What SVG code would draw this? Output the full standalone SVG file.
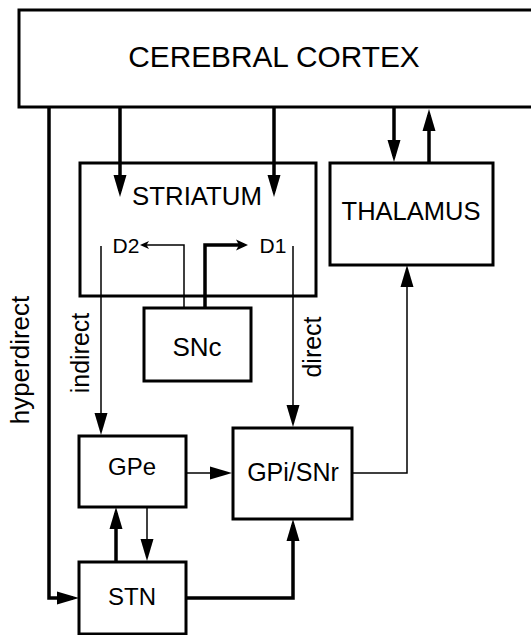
<svg xmlns="http://www.w3.org/2000/svg" width="531" height="635" viewBox="0 0 531 635">
<style>
.box{fill:#fff;stroke:#000;stroke-width:3}
.t{font-family:"Liberation Sans",Arial,sans-serif;fill:#000;text-anchor:middle}
.thick{fill:none;stroke:#000;stroke-width:3.5}
.thin{fill:none;stroke:#000;stroke-width:1.5}
</style>
<defs>
<marker id="ah" markerUnits="userSpaceOnUse" markerWidth="22" markerHeight="14" refX="16" refY="7" orient="auto" viewBox="0 0 22 14"><path d="M0,0.5 L22,7 L0,13.5 z" fill="#000"/></marker>
<marker id="sm" markerUnits="userSpaceOnUse" markerWidth="12" markerHeight="12" refX="8" refY="6" orient="auto" viewBox="0 0 12 12"><path d="M0,0.5 L12,6 L0,11.5 L3,6 z" fill="#000"/></marker>
<marker id="xs" markerUnits="userSpaceOnUse" markerWidth="9" markerHeight="9" refX="6" refY="4.5" orient="auto" viewBox="0 0 9 9"><path d="M0,0.5 L9,4.5 L0,8.5 L2.5,4.5 z" fill="#000"/></marker>
</defs>
<g id="connectors">
<path class="thick" d="M49,107 V598 H73" marker-end="url(#ah)"/>
<path class="thick" d="M120,107 V191" marker-end="url(#ah)"/>
<path class="thick" d="M274,107 V191" marker-end="url(#ah)"/>
<path class="thick" d="M394,107 V156" marker-end="url(#ah)"/>
<path class="thick" d="M429,163 V115" marker-end="url(#ah)"/>
<path class="thin" d="M184,308 V245 H143" marker-end="url(#xs)"/>
<path class="thick" d="M205,308 V245 H244" marker-end="url(#sm)"/>
<path class="thin" d="M101,246 V429" marker-end="url(#ah)"/>
<path class="thin" d="M293,246 V421" marker-end="url(#ah)"/>
<path class="thin" d="M186,473 H226" marker-end="url(#ah)"/>
<path class="thin" d="M352,473 H407 V271" marker-end="url(#ah)"/>
<path class="thick" d="M116,562 V513" marker-end="url(#ah)"/>
<path class="thin" d="M147,507 V555" marker-end="url(#ah)"/>
<path class="thick" d="M186,598 H293 V525" marker-end="url(#ah)"/>
</g>
<g id="cortex"><rect class="box" x="19" y="10" width="530" height="97"/><text class="t" x="274" y="67" font-size="29.8">CEREBRAL CORTEX</text></g>
<g id="striatum"><rect class="box" x="80" y="163" width="236" height="133" style="fill:none"/><text class="t" x="197" y="205" font-size="25.8">STRIATUM</text>
<text class="t" x="126" y="253" font-size="21">D2</text><text class="t" x="273" y="253" font-size="21">D1</text></g>
<g id="thalamus"><rect class="box" x="330" y="163" width="163" height="102"/><text class="t" x="411" y="220" font-size="25.5">THALAMUS</text></g>
<g id="snc"><rect class="box" x="144" y="308" width="107" height="73" style="fill:none"/><text class="t" x="197" y="356" font-size="26">SNc</text></g>
<g id="gpe"><rect class="box" x="79" y="436" width="107" height="71"/><text class="t" x="132" y="475" font-size="24">GPe</text></g>
<g id="gpi"><rect class="box" x="233" y="428" width="119" height="91"/><text class="t" x="293" y="481" font-size="25">GPi/SNr</text></g>
<g id="stn"><rect class="box" x="79" y="562" width="107" height="72"/><text class="t" x="132" y="605" font-size="24">STN</text></g>
<g id="labels">
<text class="t" font-size="26" transform="translate(29,360) rotate(-90)">hyperdirect</text>
<text class="t" font-size="25" transform="translate(89,353) rotate(-90)">indirect</text>
<text class="t" font-size="25" transform="translate(321,347) rotate(-90)">direct</text>
</g>
</svg>
